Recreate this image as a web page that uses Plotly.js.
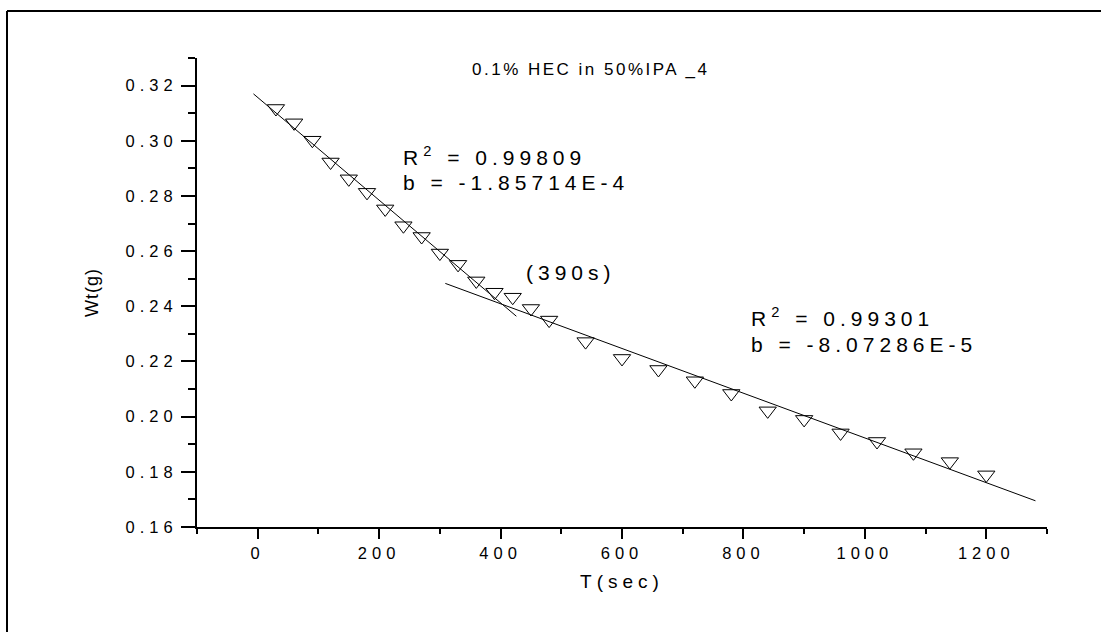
<!DOCTYPE html>
<html>
<head>
<meta charset="utf-8">
<script src="https://cdn.plot.ly/plotly-3.0.1.min.js"></script>
<style>
  html, body { margin: 0; padding: 0; background: #fff; }
  #chart { width: 1101px; height: 632px; }
  svg text { letter-spacing: 5px; }
</style>
</head>
<body>
<div id="chart"></div>
<script>
// Measured data (time in seconds, weight in grams)
const timeSec = [30, 60, 90, 120, 150, 180, 210, 240, 270, 300, 330, 360, 390, 420, 450, 480,
                 540, 600, 660, 720, 780, 840, 900, 960, 1020, 1080, 1140, 1200];
const weightG = [0.3117, 0.3065, 0.3002, 0.2923, 0.2862, 0.2813, 0.2753, 0.2692, 0.2653, 0.2593,
                 0.2552, 0.2492, 0.2451, 0.2433, 0.2392, 0.2350, 0.2272, 0.2211, 0.2171, 0.2130,
                 0.2084, 0.2021, 0.1990, 0.1941, 0.1910, 0.1869, 0.1837, 0.1789];

// Linear fit segments (end points)
const fit1T = [-7, 426];
const fit1W = [0.3170, 0.2364];
const fit2T = [309, 1281];
const fit2W = [0.2483, 0.1695];

// Text
const chartTitle = "0.1% HEC in 50%IPA _4";
const xTitle = "T(sec)";
const yTitle = "Wt(g)";
const fit1R2 = "R<sup>2</sup> = 0.99809";
const fit1B = "b = -1.85714E-4";
const fit2R2 = "R<sup>2</sup> = 0.99301";
const fit2B = "b = -8.07286E-5";
const breakLabel = "(390s)";

const FONT = "Arial, 'Liberation Sans', sans-serif";

const traces = [
  {
    x: timeSec, y: weightG, type: 'scatter', mode: 'markers',
    marker: { symbol: 'triangle-down-open', size: 15, color: 'black', line: { width: 1, color: 'black' } },
    showlegend: false, cliponaxis: false
  },
  {
    x: fit1T, y: fit1W, type: 'scatter', mode: 'lines',
    line: { color: 'black', width: 1 }, showlegend: false, cliponaxis: false
  },
  {
    x: fit2T, y: fit2W, type: 'scatter', mode: 'lines',
    line: { color: 'black', width: 1 }, showlegend: false, cliponaxis: false
  }
];

// plot area: l=197, t=58, width=850, height=469
const L = 197, T = 58, W = 850, H = 469;
const px2paperX = p => (p - L) / W;
const px2paperY = p => (T + H - p) / H;

const layout = {
  width: 1101, height: 632,
  margin: { l: L, r: 1101 - L - W, t: T, b: 632 - T - H, pad: 0 },
  paper_bgcolor: 'white', plot_bgcolor: 'white',
  font: { family: FONT, color: 'black', size: 16.5 },
  showlegend: false,
  xaxis: {
    range: [-100, 1300], tick0: 0, dtick: 200,
    showgrid: false, zeroline: false,
    showline: true, linecolor: 'black', linewidth: 2, mirror: false,
    ticks: 'outside', ticklen: 10, tickwidth: 2, tickcolor: 'black',
    minor: { dtick: 100, ticklen: 5, tickwidth: 2, tickcolor: 'black', ticks: 'outside', showgrid: false },
    tickfont: { family: FONT, size: 16.5, color: 'black' },
    title: { text: xTitle, font: { family: FONT, size: 19, color: 'black' }, standoff: 14 }
  },
  yaxis: {
    range: [0.16, 0.33], tick0: 0.16, dtick: 0.02, tickformat: '.2f',
    showgrid: false, zeroline: false,
    showline: true, linecolor: 'black', linewidth: 2, mirror: false,
    ticks: 'outside', ticklen: 14, tickwidth: 2, tickcolor: 'black',
    minor: { dtick: 0.01, ticklen: 7, tickwidth: 2, tickcolor: 'black', ticks: 'outside', showgrid: false },
    tickfont: { family: FONT, size: 16.5, color: 'black' },
    title: { text: '<span style="letter-spacing:1px">' + yTitle + '</span>',
             font: { family: FONT, size: 18, color: 'black' }, standoff: 22 }
  },
  annotations: [
    { text: '<span style="letter-spacing:2.5px">' + chartTitle + '</span>', xref: 'paper', yref: 'paper',
      x: px2paperX(590), y: px2paperY(70),
      xanchor: 'center', yanchor: 'middle', showarrow: false, font: { family: FONT, size: 17, color: 'black' } },
    { text: fit1R2, xref: 'x', yref: 'y', x: 236.7, y: 0.2944, xanchor: 'left', yanchor: 'middle',
      showarrow: false, font: { family: FONT, size: 21, color: 'black' } },
    { text: fit1B, xref: 'x', yref: 'y', x: 236.7, y: 0.2849, xanchor: 'left', yanchor: 'middle',
      showarrow: false, font: { family: FONT, size: 21, color: 'black' } },
    { text: breakLabel, xref: 'x', yref: 'y', x: 439, y: 0.2524, xanchor: 'left', yanchor: 'middle',
      showarrow: false, font: { family: FONT, size: 21, color: 'black' } },
    { text: fit2R2, xref: 'x', yref: 'y', x: 809, y: 0.2361, xanchor: 'left', yanchor: 'middle',
      showarrow: false, font: { family: FONT, size: 21, color: 'black' } },
    { text: fit2B, xref: 'x', yref: 'y', x: 809, y: 0.2263, xanchor: 'left', yanchor: 'middle',
      showarrow: false, font: { family: FONT, size: 21, color: 'black' } }
  ],
  shapes: [
    { type: 'line', xref: 'paper', yref: 'paper', x0: px2paperX(7), x1: px2paperX(1120),
      y0: px2paperY(11), y1: px2paperY(11), line: { color: 'black', width: 2 } },
    { type: 'line', xref: 'paper', yref: 'paper', x0: px2paperX(7), x1: px2paperX(7),
      y0: px2paperY(11), y1: px2paperY(650), line: { color: 'black', width: 2 } }
  ]
};

Plotly.newPlot('chart', traces, layout, { displayModeBar: false, staticPlot: true });
</script>
</body>
</html>
